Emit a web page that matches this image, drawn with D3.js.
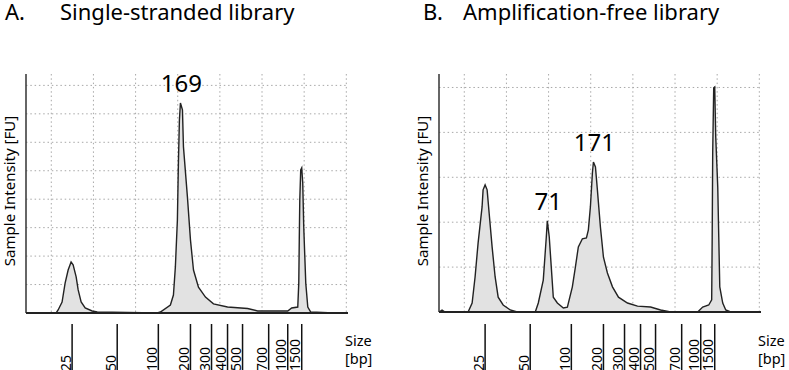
<!DOCTYPE html>
<html>
<head>
<meta charset="utf-8">
<script src="https://cdn.jsdelivr.net/npm/d3@7"></script>
<style>
  body { margin: 0; background: #fff; }
  svg { font-family: "Noto Sans", "Open Sans", sans-serif; }
  .grid { stroke: #a8a8a8; stroke-width: 1; stroke-dasharray: 1.5,2.8; }
</style>
</head>
<body>
<svg id="myGraph" width="789" height="370"></svg>
<script>
// ladder sizes and their migration times (s)
var ladderSizes = [25, 50, 100, 200, 300, 400, 500, 700, 1000, 1500];
var ladderTimes = [22.47, 27.82, 32.70, 36.51, 39.01, 40.91, 42.69, 45.79, 48.05, 49.71];

// traces: [time (s), fluorescence (FU)]
var traceA = [[17.0,0],[20.57,0],[20.81,1.05],[21.28,3.87],[21.64,10.5],[22.0,15.1],[22.35,17.9],[22.59,16.9],
  [22.95,12.7],[23.19,8.1],[23.54,3.9],[24.02,1.76],[24.85,0.7],[25.45,0.35],[32.58,0],[32.94,0.35],
  [34.13,2.8],[34.49,6.3],[34.72,16.2],[34.96,32.7],[35.08,52.7],[35.20,67.8],[35.32,73.8],[35.56,71.4],
  [35.68,58.4],[36.15,40.8],[36.51,25.7],[36.87,15.1],[37.46,9.1],[38.29,5.6],[39.24,3.2],[40.91,2.1],
  [43.29,1.6],[44.48,0.7],[48.05,0.7],[48.52,1.76],[49.24,2.1],[49.36,10.5],[49.42,25.7],[49.48,39.7],
  [49.59,50.3],[49.71,51.0],[49.83,45.7],[49.95,30.2],[50.19,10.5],[50.43,2.1],[50.78,0.35],[53.52,0]];
var traceB = [[17.0,0],[17.36,0.45],[17.71,0],[20.45,0],[20.93,2.0],[21.28,7.8],[21.64,15.4],[22.11,23.4],
  [22.23,27.2],[22.47,28.3],[22.71,27.2],[22.95,22.0],[23.30,14.5],[23.66,7.8],[24.02,3.3],[24.61,1.56],
  [25.45,0.45],[26.28,0],[28.42,0],[28.78,2.0],[29.37,7.1],[29.73,16.7],[29.85,20.3],[30.08,16.7],
  [30.32,10.0],[30.56,3.3],[31.04,2.0],[31.75,0.9],[32.23,1.1],[32.82,5.6],[33.18,10.0],[33.53,14.5],
  [34.01,16.3],[34.49,16.5],[34.72,18.3],[34.96,23.4],[35.20,31.0],[35.32,33.4],[35.56,32.3],[35.79,27.2],
  [36.15,18.9],[36.51,12.2],[36.98,8.7],[37.58,5.6],[38.29,3.3],[39.36,2.0],[40.55,1.3],[42.10,1.1],
  [43.29,0.45],[44.48,0],[47.69,0],[48.28,1.1],[49.0,1.56],[49.35,2.7],[49.41,16.7],[49.47,35.4],
  [49.59,49.9],[49.71,50.1],[49.83,39.0],[50.07,27.8],[50.19,16.7],[50.31,5.6],[50.66,2.0],[51.02,0.45],
  [51.61,0],[55.2,0]];

var peaksA = [[35.32, 73.8, "169"]];
var peaksB = [[29.85, 20.3, "71"], [35.32, 33.4, "171"]];

var svg = d3.select("#myGraph");

function drawPanel(opt){
    var g = svg.append("g").attr("transform", "translate(" + opt.left + ",0)");
    var x = d3.scaleLinear().domain([17, 55.2]).range([0, 322]);
    var y = d3.scaleLinear().domain([0, opt.yMax]).range([opt.base, 74]);

    // titles
    g.append("text").attr("x", opt.letterX).attr("y", 20).attr("font-size", 22).text(opt.letter);
    g.append("text").attr("x", opt.titleX).attr("y", 20).attr("font-size", 22).text(opt.title);

    // grid
    g.selectAll("line.gy").data(d3.range(10, opt.yMax, 10)).enter()
        .append("line").attr("class", "grid")
        .attr("x1", 0).attr("x2", x(55.2))
        .attr("y1", d => y(d)).attr("y2", d => y(d));
    g.selectAll("line.gx").data(d3.range(20, 56, 5)).enter()
        .append("line").attr("class", "grid")
        .attr("x1", d => x(d)).attr("x2", d => x(d))
        .attr("y1", 74).attr("y2", opt.base);

    // trace
    var area = d3.area().x(d => x(d[0])).y0(y(0)).y1(d => y(d[1]));
    var line = d3.line().x(d => x(d[0])).y(d => y(d[1]));
    g.append("path").datum(opt.trace).attr("d", area).attr("fill", "#e2e2e2");
    g.append("path").datum(opt.trace).attr("d", line)
        .attr("fill", "none").attr("stroke", "#222").attr("stroke-width", 1.4);

    // axes
    g.append("line").attr("x1", 0).attr("x2", 0).attr("y1", 74).attr("y2", opt.base)
        .attr("stroke", "#333").attr("stroke-width", 1.5);
    g.append("line").attr("x1", 0).attr("x2", x(55.2)).attr("y1", opt.base).attr("y2", opt.base)
        .attr("stroke", "#222").attr("stroke-width", 2);

    g.append("text")
        .attr("transform", "translate(" + opt.yLabelX + ",191) rotate(-90)")
        .attr("text-anchor", "middle").attr("font-size", 15)
        .text("Sample Intensity [FU]");

    // ladder ticks
    var ticks = g.selectAll("g.tick").data(ladderTimes).enter().append("g");
    ticks.append("line")
        .attr("x1", d => x(d)).attr("x2", d => x(d))
        .attr("y1", 324).attr("y2", 370)
        .attr("stroke", "#111").attr("stroke-width", 1.5);
    ticks.append("text")
        .attr("transform", d => "translate(" + (x(d) - 1.5) + ",371) rotate(-90)")
        .attr("font-size", 14)
        .text((d, i) => ladderSizes[i]);

    var unit = g.append("text").attr("font-size", 14.5);
    unit.append("tspan").attr("x", x(55.2) - 3).attr("y", 346).text("Size");
    unit.append("tspan").attr("x", x(55.2) - 3).attr("y", 364).text("[bp]");

    // peak labels
    g.selectAll("text.peak").data(opt.peaks).enter().append("text")
        .attr("x", d => x(d[0]) + 1)
        .attr("y", d => y(d[1]) - 11)
        .attr("text-anchor", "middle").attr("font-size", 24)
        .text(d => d[2]);
}

drawPanel({left: 26, base: 313, yMax: 84, trace: traceA, peaks: peaksA,
    letter: "A.", letterX: -21, title: "Single-stranded library", titleX: 34, yLabelX: -11});
drawPanel({left: 439, base: 312, yMax: 53, trace: traceB, peaks: peaksB,
    letter: "B.", letterX: -16, title: "Amplification-free library", titleX: 24, yLabelX: -11});
</script>
</body>
</html>
